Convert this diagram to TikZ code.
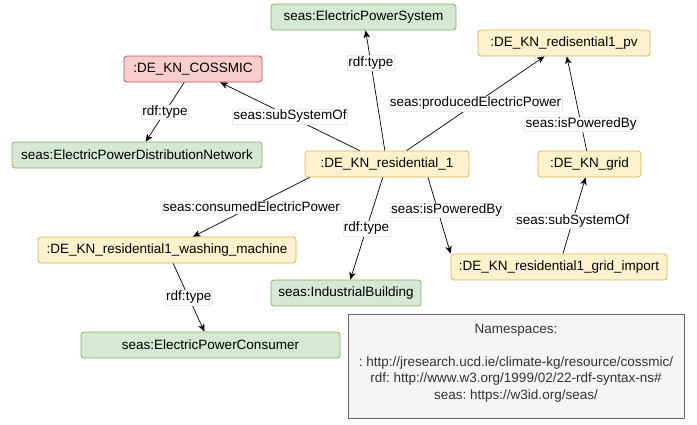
\documentclass[tikz,border=0pt]{standalone}
\usepackage{fontspec}
\setmainfont{Liberation Sans}
\usepackage{tikz}
\usetikzlibrary{arrows.meta}
\frenchspacing

\definecolor{clsfill}{HTML}{D5E8D4}
\definecolor{clsline}{HTML}{82B366}
\definecolor{instfill}{HTML}{FFF2CC}
\definecolor{instline}{HTML}{D6B656}
\definecolor{netfill}{HTML}{F8CECC}
\definecolor{netline}{HTML}{B85450}
\definecolor{nsfill}{HTML}{F5F5F5}
\definecolor{nsline}{HTML}{666666}
\definecolor{nstext}{HTML}{333333}

\begin{document}
\begin{tikzpicture}[x=1pt, y=-1pt, >={Stealth[length=7.5pt, width=6.5pt, inset=2pt]}, font=\fontsize{13.5}{16.5}\selectfont,
    box/.style={rounded corners=3pt, line width=0.8pt, minimum height=26pt, inner sep=2pt},
    classbox/.style={box, draw=clsline, fill=clsfill},
    instbox/.style={box, draw=instline, fill=instfill},
    netbox/.style={box, draw=netline, fill=netfill},
    rel/.style={->, line width=0.7pt},
    lbl/.style={fill=white, draw=black!8, line width=0.4pt, inner sep=1pt}]
    \useasboundingbox (0,0) rectangle (697,424);

    % classes
    \node[classbox, minimum width=185pt] (eps) at (363.5,17) {seas:ElectricPowerSystem};
    \node[classbox, minimum width=250pt] (epdn) at (137,155) {seas:ElectricPowerDistributionNetwork};
    \node[classbox, minimum width=150pt] (ind) at (346,293) {seas:IndustrialBuilding};
    \node[classbox, minimum width=259pt] (cons) at (210.5,345) {seas:ElectricPowerConsumer};

    % instances
    \node[netbox, minimum width=138pt] (cossmic) at (193,69) {:DE\_KN\_COSSMIC};
    \node[instbox, minimum width=172pt] (pv) at (564,43) {:DE\_KN\_redisential1\_pv};
    \node[instbox, minimum width=164pt] (res) at (387,164) {:DE\_KN\_residential\_1};
    \node[instbox, minimum width=103pt] (grid) at (589.5,164) {:DE\_KN\_grid};
    \node[instbox, minimum width=258pt] (wash) at (167,250) {:DE\_KN\_residential1\_washing\_machine};
    \node[instbox, minimum width=216pt] (imp) at (559,267) {:DE\_KN\_residential1\_grid\_import};

    % relations
    \draw[rel] (cossmic) -- (epdn) node[lbl, midway] (l1) {rdf:type};
    \draw[rel] (res) -- (cossmic) node[lbl, midway] (l2) {seas:subSystemOf};
    \draw[rel] (res) -- (eps) node[lbl, pos=0.73] (l3) {rdf:type};
    \draw[rel] (res) -- (pv) node[lbl, midway] (l4) {seas:producedElectricPower};
    \draw[rel] (grid) -- (pv) node[lbl, pos=0.28] (l5) {seas:isPoweredBy};
    \draw[rel] ([xshift=5pt]res.south west) -- ([xshift=26pt]wash.north) node[lbl, midway] (l6) {seas:consumedElectricPower};
    \draw[rel] (res) -- (ind) node[lbl, midway] (l7) {rdf:type};
    \draw[rel] ([xshift=41pt]res.south) -- (imp.north west) node[lbl, pos=0.43, xshift=9pt] (l8) {seas:isPoweredBy};
    \draw[rel] (imp) -- (grid) node[lbl, pos=0.43] (l9) {seas:subSystemOf};
    \draw[rel] (wash) -- (cons) node[lbl, midway] (l10) {rdf:type};

    % namespaces
    \node[draw=nsline, fill=nsfill, line width=0.8pt, minimum width=336pt, minimum height=104pt] (ns) at (516,366) {};
    \node[text=nstext, align=center, anchor=center] (nstxt) at (516,363)
        {Namespaces:\\~\\: http://jresearch.ucd.ie/climate-kg/resource/cossmic/\\rdf: http://www.w3.org/1999/02/22-rdf-syntax-ns\#\\seas: https://w3id.org/seas/};
\end{tikzpicture}
\end{document}
